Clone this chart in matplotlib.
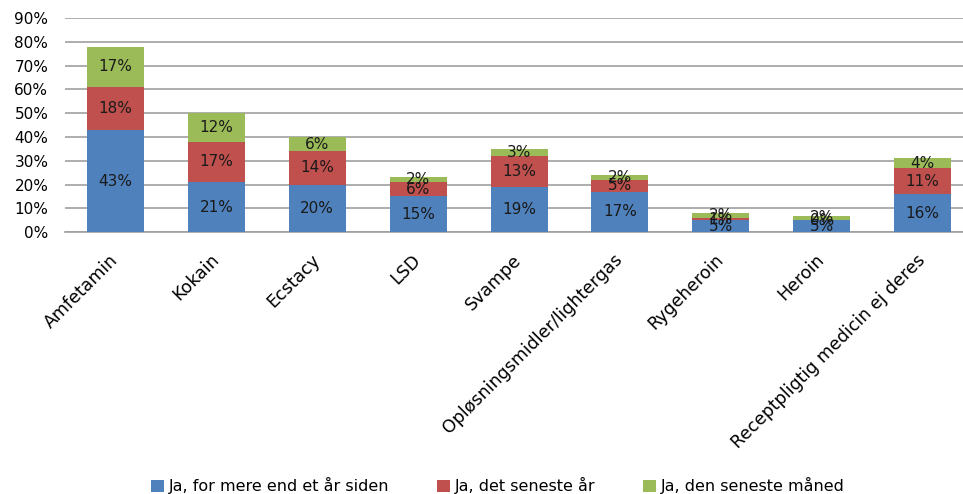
import matplotlib
matplotlib.use("Agg")
import matplotlib.pyplot as plt
import numpy as np

# Data (percent)
categories = ["Amfetamin", "Kokain", "Ecstacy", "LSD", "Svampe",
              "Opløsningsmidler/lightergas", "Rygeheroin", "Heroin",
              "Receptpligtig medicin ej deres"]
over_aar = [43, 21, 20, 15, 19, 17, 5, 5, 16]
seneste_aar = [18, 17, 14, 6, 13, 5, 1, 0, 11]
seneste_maaned = [17, 12, 6, 2, 3, 2, 2, 2, 4]
series_names = ["Ja, for mere end et år siden", "Ja, det seneste år",
                "Ja, den seneste måned"]
yticks = [0, 10, 20, 30, 40, 50, 60, 70, 80, 90]

colors = ["#4F81BD", "#C0504D", "#9BBB59"]

fig = plt.figure(figsize=(9.63, 4.94), dpi=100)
ax = fig.add_axes([0.0675, 0.530, 0.9325, 0.4335])

x = np.arange(len(categories))
bottom = np.zeros(len(categories))
for vals, name, col in zip([over_aar, seneste_aar, seneste_maaned], series_names, colors):
    bars = ax.bar(x, vals, width=0.565, bottom=bottom, color=col, label=name, zorder=3)
    ax.bar_label(bars, labels=[f"{v}%" for v in vals], label_type="center",
                 fontsize=11, color="#1a1a1a", zorder=4)
    bottom += np.array(vals)

ax.set_xlim(-0.5, 8.4)
ax.set_ylim(0, 90)
ax.set_yticks(yticks)
ax.set_yticklabels([f"{t}%" for t in yticks], fontsize=11)
ax.yaxis.grid(True, color="#A0A0A0", linewidth=1.2, zorder=0)
for s in ["top", "right", "left"]:
    ax.spines[s].set_visible(False)
ax.spines["bottom"].set_color("#A0A0A0")
ax.spines["bottom"].set_linewidth(1.2)
ax.tick_params(axis="both", length=0)
ax.tick_params(axis="y", pad=12)
ax.tick_params(axis="x", pad=18)

ax.set_xticks(x)
ax.set_xticklabels(categories, rotation=45, ha="right", va="center",
                   rotation_mode="anchor", fontsize=12.5)

fig.legend(loc="lower center", bbox_to_anchor=(0.517, -0.03), ncol=3, frameon=False,
           fontsize=11.5, handlelength=0.8, handleheight=0.8, handletextpad=0.3,
           columnspacing=3.0)

fig.savefig("out.png", dpi=100)
